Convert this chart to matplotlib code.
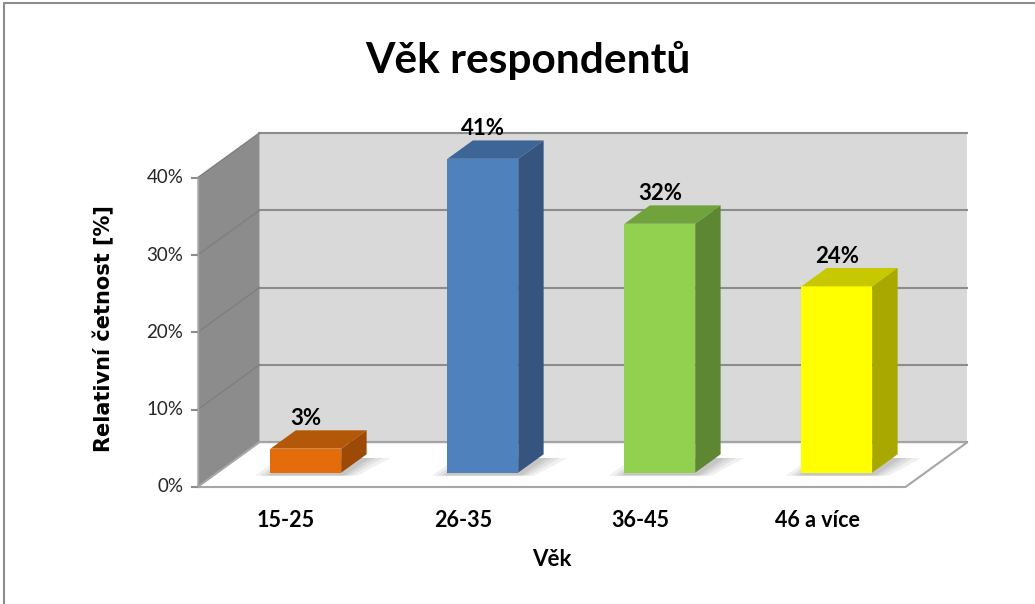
import matplotlib
matplotlib.use('Agg')
from matplotlib import pyplot as plt
from matplotlib.patches import Polygon, Rectangle

plt.rcParams['font.family'] = ['Lato', 'DejaVu Sans']

# data
categories = ['15-25', '26-35', '36-45', '46 a více']
values = [3.1, 40.6, 32.2, 24.1]          # relative frequency in %
y_ticks = [0, 10, 20, 30, 40]
front_colors = ['#E46C0A', '#4F81BD', '#92D050', '#FFFF00']
top_colors = ['#B35708', '#3D6596', '#71A33D', '#C8C800']
side_colors = ['#9C4A06', '#355580', '#5E8733', '#A8A800']

# oblique "3d" projection parameters (in data units)
DX, DY = 0.35, 5.8       # offset of the back plane
d0, d1 = 0.32, 0.73      # bar depth range (fraction of floor depth)
w = 0.40                 # bar width
ymax = 40
xl, xr = -0.5, len(categories) - 0.5

fig = plt.figure(figsize=(10.35, 6.04), dpi=100)
fig.set_facecolor('white')
ax = fig.add_axes([0, 0, 1, 1])
ax.set_xlim(-286 / 177, (1035 - 286) / 177)
ax.set_ylim(-(604 - 487) / 7.73, 487 / 7.73)
ax.axis('off')

# chart border
fig.patches.append(Rectangle((4 / 1035, -0.1), 1.2, 1.1 - 3 / 604, transform=fig.transFigure,
                             fill=False, edgecolor='#8c8c8c', linewidth=1.5))

# back wall
ax.add_patch(Polygon([(xl + DX, DY), (xr + DX, DY), (xr + DX, ymax + DY), (xl + DX, ymax + DY)],
                     closed=True, facecolor='#D9D9D9', edgecolor='none', zorder=1))
# left wall
ax.add_patch(Polygon([(xl, 0), (xl + DX, DY), (xl + DX, ymax + DY), (xl, ymax)],
                     closed=True, facecolor='#8C8C8C', edgecolor='none', zorder=1))
# floor
ax.add_patch(Polygon([(xl, 0), (xr, 0), (xr + DX, DY), (xl + DX, DY)],
                     closed=True, facecolor='white', edgecolor='#A6A6A6', linewidth=1.5, zorder=2))

for t in y_ticks:
    ax.plot([xl + DX, xr + DX], [t + DY, t + DY], color='#8C8C8C', linewidth=1.5, zorder=1.5)
    ax.plot([xl, xl + DX], [t, t + DY], color='#7F7F7F', linewidth=1, zorder=1.5)
    ax.plot([xl - 0.03, xl], [t, t], color='#8C8C8C', linewidth=1.5, zorder=3)
    ax.text(xl - 0.08, t, '%d%%' % t, ha='right', va='center', fontsize=13.5, color='#262626')
ax.plot([xl, xl], [0, ymax], color='#A6A6A6', linewidth=1, zorder=3)

# bars
for i, v in enumerate(values):
    x0 = i - w / 2 + d0 * DX
    x1 = i + w / 2 + d0 * DX
    b0 = d0 * DY
    dd = (d1 - d0)
    # soft shadow on the floor
    for e in [0.09, 0.06, 0.035, 0.015]:
        ax.add_patch(Polygon([(x0 - e, b0 - 0.4), (x1 + e, b0 - 0.4),
                              (x1 + e * 1.5 + dd * DX, b0 + dd * DY * 0.8), (x0 - e + dd * DX, b0 + dd * DY * 0.8)],
                             closed=True, facecolor='black', alpha=0.06, edgecolor='none', zorder=3))
    ax.bar(i + d0 * DX, v, width=w, bottom=b0, color=front_colors[i], edgecolor='none', zorder=5)
    top = v + b0
    ax.add_patch(Polygon([(x0, top), (x1, top), (x1 + dd * DX, top + dd * DY), (x0 + dd * DX, top + dd * DY)],
                         closed=True, facecolor=top_colors[i], edgecolor='none', zorder=5))
    ax.add_patch(Polygon([(x1, b0), (x1 + dd * DX, b0 + dd * DY), (x1 + dd * DX, top + dd * DY), (x1, top)],
                         closed=True, facecolor=side_colors[i], edgecolor='none', zorder=5))
    ax.text(i + d0 * DX, top + dd * DY + 0.15, '%.0f%%' % v, ha='center', va='bottom',
            fontsize=16, fontweight='bold', zorder=6)

# category labels
for i, c in enumerate(categories):
    ax.text(i, -4.3, c, ha='center', va='center', fontsize=15.5, fontweight='bold')

ax.text(1.5, -9.4, 'Věk', ha='center', va='center', fontsize=16, fontweight='bold')
ax.text(-1.03, 20.5, 'Relativní četnost [%]', ha='center', va='center', rotation=90,
        fontsize=15, fontweight='bold', family=['DejaVu Sans'])
fig.text(528 / 1035, 1 - 60 / 604, 'Věk respondentů', ha='center', va='center',
         fontsize=30.5, fontweight='bold')

fig.savefig('out.png', dpi=100, facecolor='white')
